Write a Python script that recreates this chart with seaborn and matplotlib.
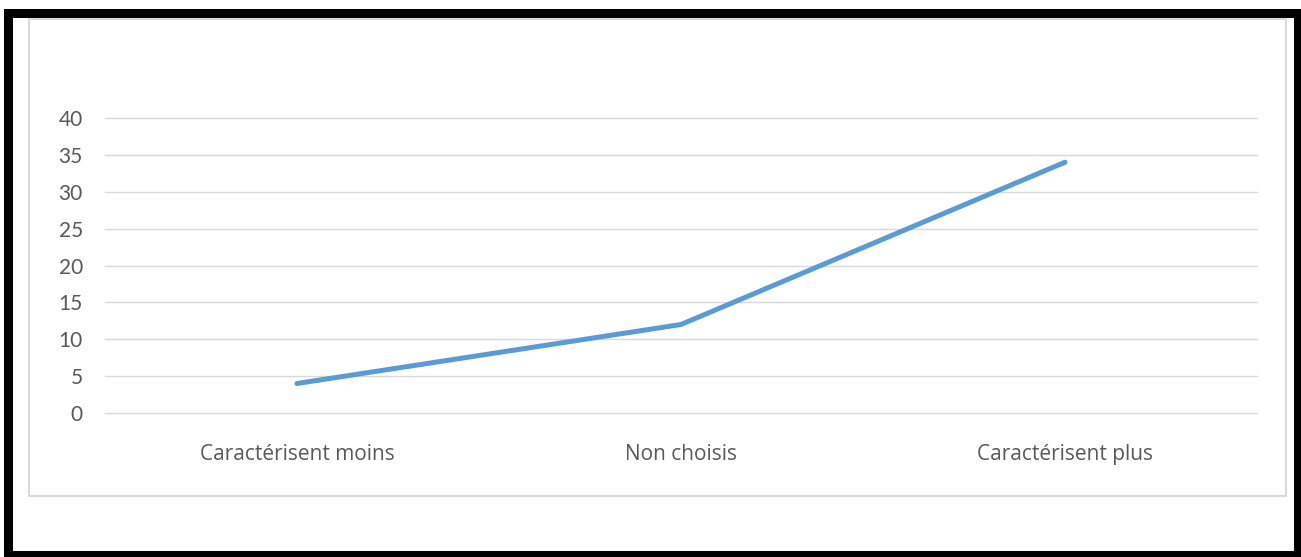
import matplotlib
matplotlib.use("Agg")
import matplotlib.pyplot as plt
import seaborn as sns
import pandas as pd
from matplotlib.patches import Rectangle

categories = ["Caractérisent moins", "Non choisis", "Caractérisent plus"]
values = [4, 12, 34]
yticks = [0, 5, 10, 15, 20, 25, 30, 35, 40]

sns.set_theme(style="white")
plt.rcParams['font.family'] = ['Lato', 'DejaVu Sans']

W, H = 1301, 557
fig = plt.figure(figsize=(W / 100, H / 100), dpi=100)
fig.patch.set_facecolor("white")

def frac_rect(x0, y0, x1, y1, **kw):
    return Rectangle((x0 / W, 1 - y1 / H), (x1 - x0) / W, (y1 - y0) / H,
                     transform=fig.transFigure, **kw)

# outer black frame
fig.patches.append(frac_rect(8, 12.5, 1298, 554.5, fill=False, edgecolor="black", linewidth=6.5))
# inner chart frame
fig.patches.append(frac_rect(29, 19, 1286, 495.5, fill=False, edgecolor="#d9d9d9", linewidth=1.5))

ax = fig.add_axes([105 / W, 1 - 413 / H, (1257 - 105) / W, (413 - 118) / H])
df = pd.DataFrame({"cat": categories, "val": values})
sns.lineplot(data=df, x="cat", y="val", sort=False, ax=ax, color="#5b9bd5",
             linewidth=3.6, solid_capstyle="round")

ax.set_xlim(-0.5, 2.5)
ax.set_ylim(0, 40)
ax.set_yticks(yticks)
ax.set_yticklabels([str(v) for v in yticks], family=['Lato', 'DejaVu Sans'])
ax.set_xticks(range(len(categories)))
ax.set_xticklabels(categories, family=['Open Sans', 'DejaVu Sans'])
for gl_y in yticks:
    ax.axhline(gl_y, color="#d9d9d9", linewidth=1, zorder=0, clip_on=False)
for s in ax.spines.values():
    s.set_visible(False)
ax.set_xlabel("")
ax.set_ylabel("")
ax.tick_params(axis="x", length=0, pad=22, labelsize=15, labelcolor="#595959")
ax.tick_params(axis="y", length=0, pad=16, labelsize=15, labelcolor="#595959")

fig.savefig("out.png", dpi=100)
